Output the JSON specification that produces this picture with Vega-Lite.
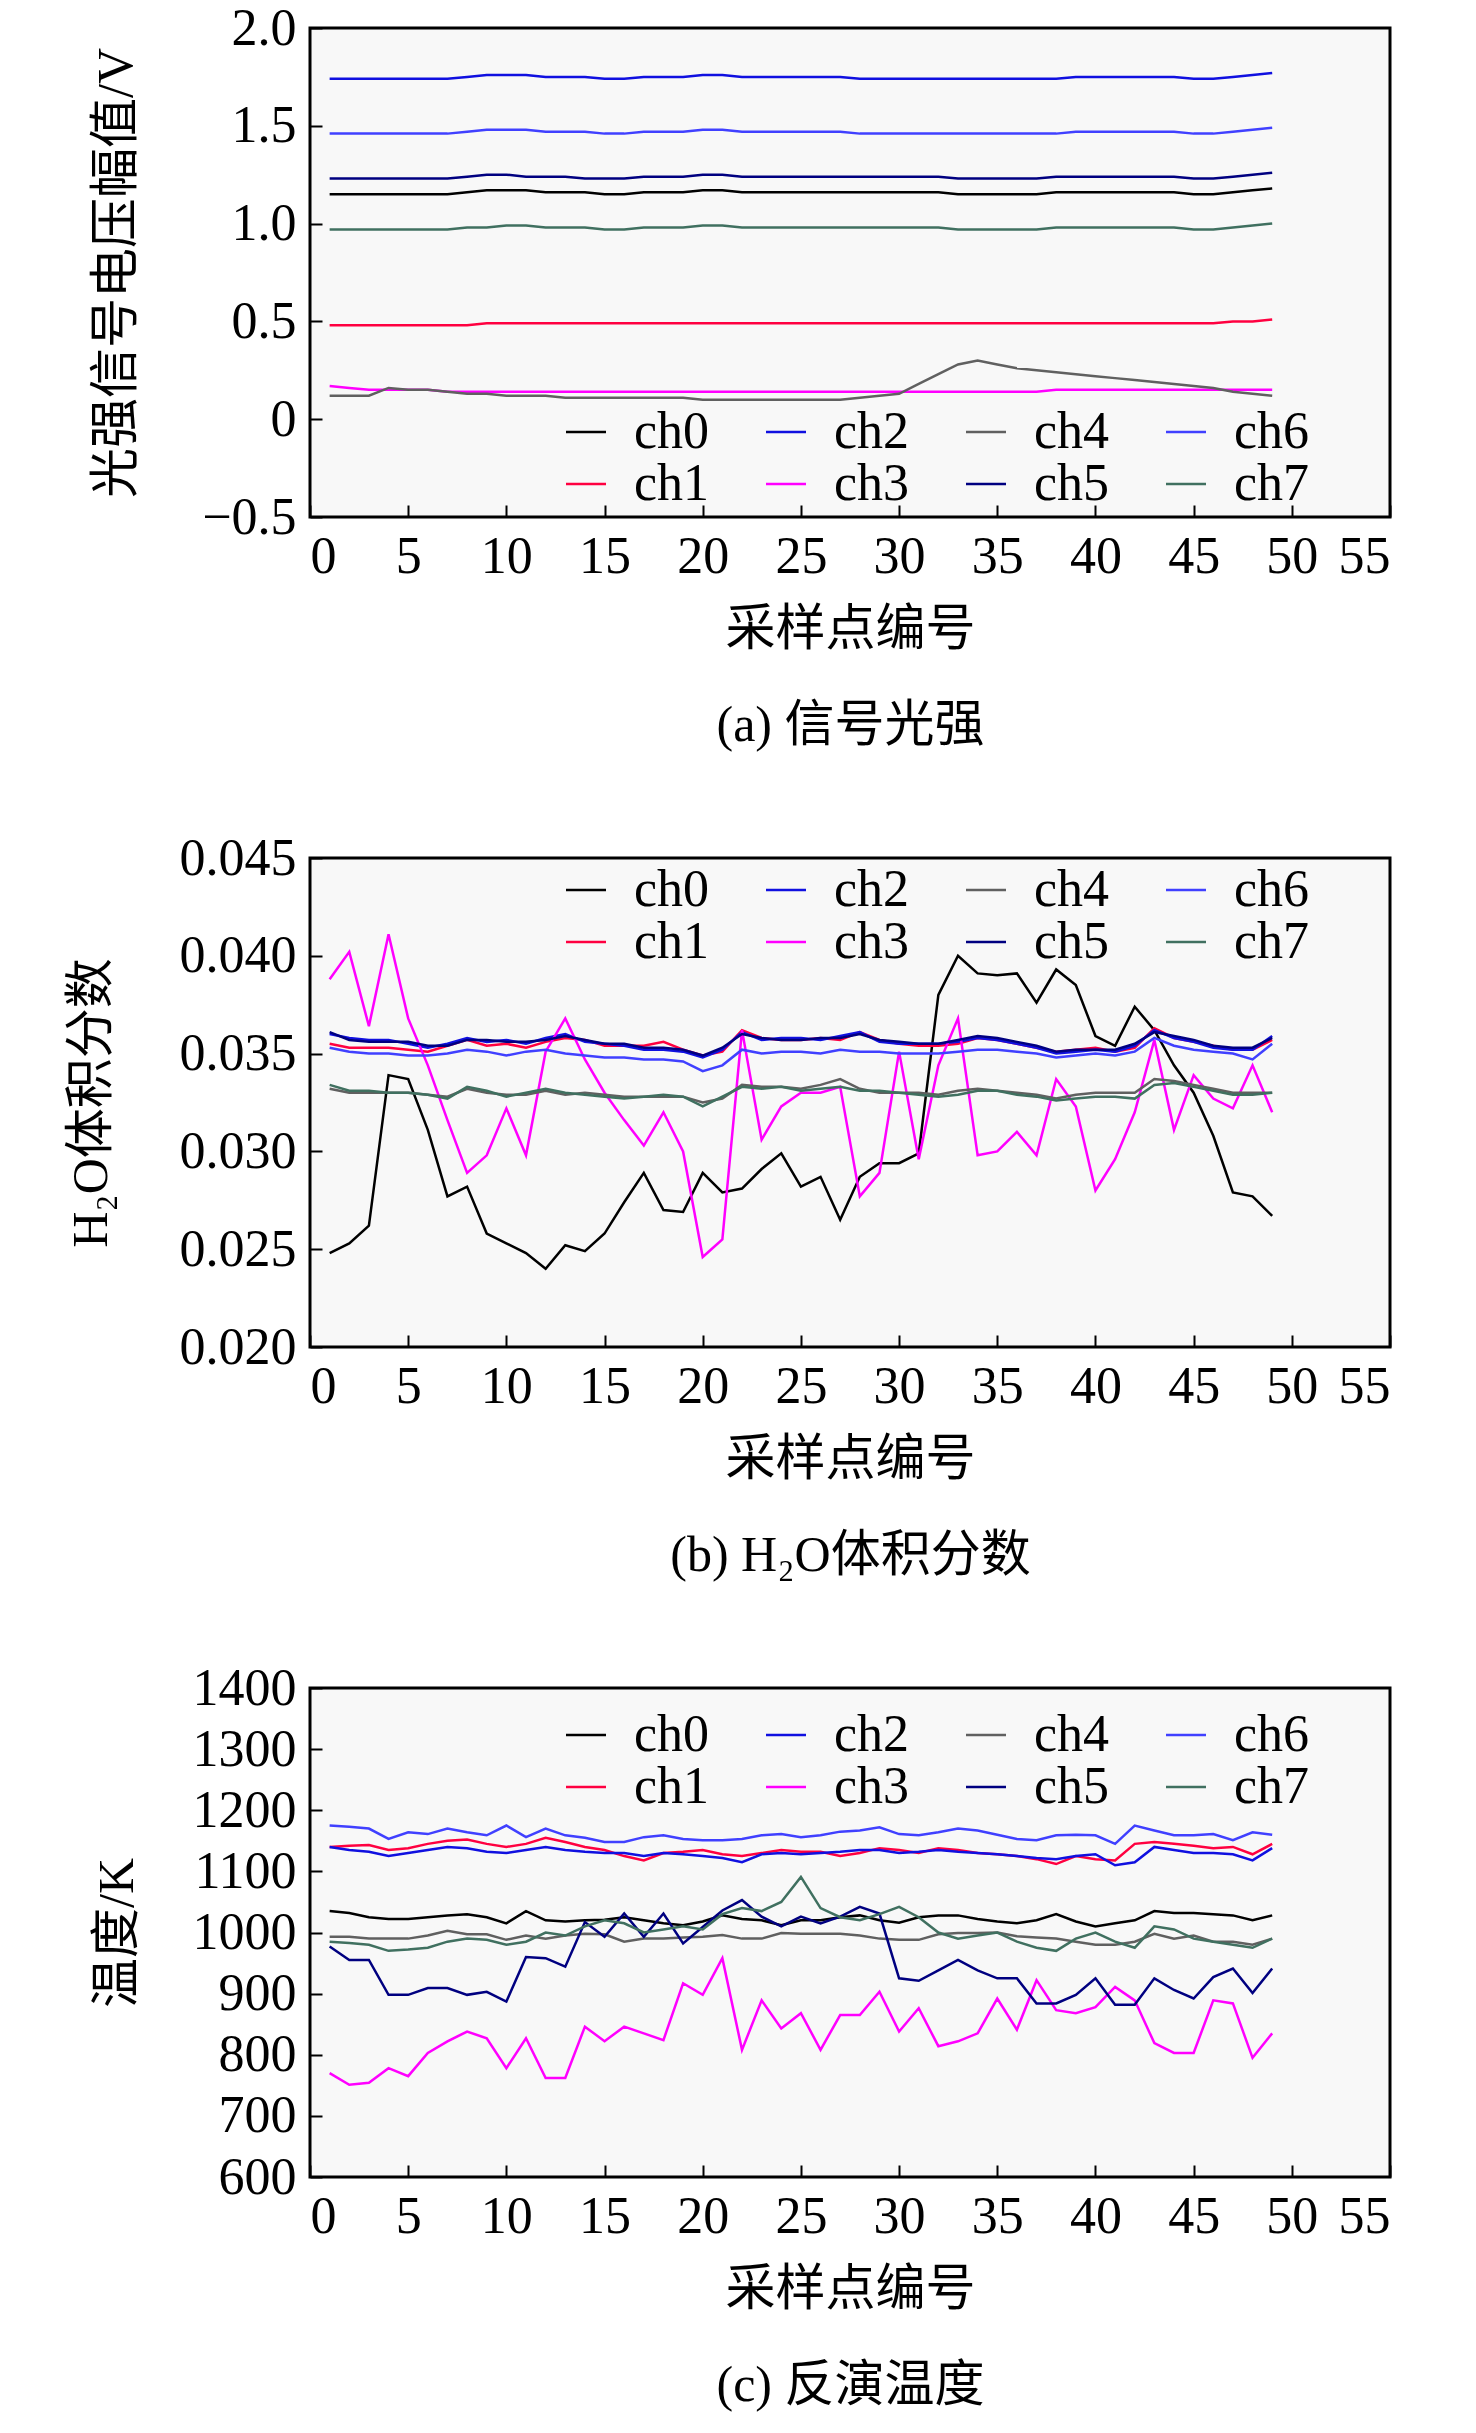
{
  "$schema": "https://vega.github.io/schema/vega-lite/v6.json",
  "background": "white",
  "padding": {"left": 64, "top": 0, "right": 10, "bottom": 10},
  "spacing": 78,
  "config": {
    "font": "Liberation Serif, Noto Sans CJK SC",
    "view": {"stroke": "black", "strokeWidth": 3, "fill": "#f8f8f8"},
    "axis": {
      "labelFont": "Liberation Serif", "labelFontSize": 52, "labelColor": "black",
      "titleFont": "Liberation Serif, Noto Sans CJK SC", "titleFontSize": 50, "titleFontWeight": "normal", "titleColor": "black",
      "domain": false, "grid": false, "tickColor": "black", "tickWidth": 2, "tickSize": -12, "labelPadding": 26
    },
    "legend": {
      "labelFont": "Liberation Serif", "labelFontSize": 52, "labelColor": "black",
      "symbolType": "stroke", "symbolSize": 1600, "symbolStrokeWidth": 3,
      "columns": 4, "columnPadding": 50, "rowPadding": 0, "labelOffset": 22, "labelLimit": 200
    },
    "line": {"strokeWidth": 2.5}
  },
  "datasets": {
    "a": [
      {"c": "ch0", "x": [1,2,3,4,5,6,7,8,9,10,11,12,13,14,15,16,17,18,19,20,21,22,23,24,25,26,27,28,29,30,31,32,33,34,35,36,37,38,39,40,41,42,43,44,45,46,47,48,49], "y": [1.15,1.15,1.15,1.15,1.15,1.15,1.15,1.16,1.17,1.17,1.17,1.16,1.16,1.16,1.15,1.15,1.16,1.16,1.16,1.17,1.17,1.16,1.16,1.16,1.16,1.16,1.16,1.16,1.16,1.16,1.16,1.16,1.15,1.15,1.15,1.15,1.15,1.16,1.16,1.16,1.16,1.16,1.16,1.16,1.15,1.15,1.16,1.17,1.18]},
      {"c": "ch1", "x": [1,2,3,4,5,6,7,8,9,10,11,12,13,14,15,16,17,18,19,20,21,22,23,24,25,26,27,28,29,30,31,32,33,34,35,36,37,38,39,40,41,42,43,44,45,46,47,48,49], "y": [0.48,0.48,0.48,0.48,0.48,0.48,0.48,0.48,0.49,0.49,0.49,0.49,0.49,0.49,0.49,0.49,0.49,0.49,0.49,0.49,0.49,0.49,0.49,0.49,0.49,0.49,0.49,0.49,0.49,0.49,0.49,0.49,0.49,0.49,0.49,0.49,0.49,0.49,0.49,0.49,0.49,0.49,0.49,0.49,0.49,0.49,0.50,0.50,0.51]},
      {"c": "ch2", "x": [1,2,3,4,5,6,7,8,9,10,11,12,13,14,15,16,17,18,19,20,21,22,23,24,25,26,27,28,29,30,31,32,33,34,35,36,37,38,39,40,41,42,43,44,45,46,47,48,49], "y": [1.74,1.74,1.74,1.74,1.74,1.74,1.74,1.75,1.76,1.76,1.76,1.75,1.75,1.75,1.74,1.74,1.75,1.75,1.75,1.76,1.76,1.75,1.75,1.75,1.75,1.75,1.75,1.74,1.74,1.74,1.74,1.74,1.74,1.74,1.74,1.74,1.74,1.74,1.75,1.75,1.75,1.75,1.75,1.75,1.74,1.74,1.75,1.76,1.77]},
      {"c": "ch3", "x": [1,2,3,4,5,6,7,8,9,10,11,12,13,14,15,16,17,18,19,20,21,22,23,24,25,26,27,28,29,30,31,32,33,34,35,36,37,38,39,40,41,42,43,44,45,46,47,48,49], "y": [0.17,0.16,0.15,0.15,0.15,0.15,0.14,0.14,0.14,0.14,0.14,0.14,0.14,0.14,0.14,0.14,0.14,0.14,0.14,0.14,0.14,0.14,0.14,0.14,0.14,0.14,0.14,0.14,0.14,0.14,0.14,0.14,0.14,0.14,0.14,0.14,0.14,0.15,0.15,0.15,0.15,0.15,0.15,0.15,0.15,0.15,0.15,0.15,0.15]},
      {"c": "ch4", "x": [1,2,3,4,5,6,7,8,9,10,11,12,13,14,15,16,17,18,19,20,21,22,23,24,25,26,27,28,29,30,31,32,33,34,35,36,37,38,39,40,41,42,43,44,45,46,47,48,49], "y": [0.12,0.12,0.12,0.16,0.15,0.15,0.14,0.13,0.13,0.12,0.12,0.12,0.11,0.11,0.11,0.11,0.11,0.11,0.11,0.10,0.10,0.10,0.10,0.10,0.10,0.10,0.10,0.11,0.12,0.13,0.18,0.23,0.28,0.30,0.28,0.26,0.25,0.24,0.23,0.22,0.21,0.20,0.19,0.18,0.17,0.16,0.14,0.13,0.12]},
      {"c": "ch5", "x": [1,2,3,4,5,6,7,8,9,10,11,12,13,14,15,16,17,18,19,20,21,22,23,24,25,26,27,28,29,30,31,32,33,34,35,36,37,38,39,40,41,42,43,44,45,46,47,48,49], "y": [1.23,1.23,1.23,1.23,1.23,1.23,1.23,1.24,1.25,1.25,1.24,1.24,1.24,1.23,1.23,1.23,1.24,1.24,1.24,1.25,1.25,1.24,1.24,1.24,1.24,1.24,1.24,1.24,1.24,1.24,1.24,1.24,1.23,1.23,1.23,1.23,1.23,1.24,1.24,1.24,1.24,1.24,1.24,1.24,1.23,1.23,1.24,1.25,1.26]},
      {"c": "ch6", "x": [1,2,3,4,5,6,7,8,9,10,11,12,13,14,15,16,17,18,19,20,21,22,23,24,25,26,27,28,29,30,31,32,33,34,35,36,37,38,39,40,41,42,43,44,45,46,47,48,49], "y": [1.46,1.46,1.46,1.46,1.46,1.46,1.46,1.47,1.48,1.48,1.48,1.47,1.47,1.47,1.46,1.46,1.47,1.47,1.47,1.48,1.48,1.47,1.47,1.47,1.47,1.47,1.47,1.46,1.46,1.46,1.46,1.46,1.46,1.46,1.46,1.46,1.46,1.46,1.47,1.47,1.47,1.47,1.47,1.47,1.46,1.46,1.47,1.48,1.49]},
      {"c": "ch7", "x": [1,2,3,4,5,6,7,8,9,10,11,12,13,14,15,16,17,18,19,20,21,22,23,24,25,26,27,28,29,30,31,32,33,34,35,36,37,38,39,40,41,42,43,44,45,46,47,48,49], "y": [0.97,0.97,0.97,0.97,0.97,0.97,0.97,0.98,0.98,0.99,0.99,0.98,0.98,0.98,0.97,0.97,0.98,0.98,0.98,0.99,0.99,0.98,0.98,0.98,0.98,0.98,0.98,0.98,0.98,0.98,0.98,0.98,0.97,0.97,0.97,0.97,0.97,0.98,0.98,0.98,0.98,0.98,0.98,0.98,0.97,0.97,0.98,0.99,1.00]}
    ],
    "b": [
      {"c": "ch0", "x": [1,2,3,4,5,6,7,8,9,10,11,12,13,14,15,16,17,18,19,20,21,22,23,24,25,26,27,28,29,30,31,32,33,34,35,36,37,38,39,40,41,42,43,44,45,46,47,48,49], "y": [0.0248,0.0253,0.0262,0.0339,0.0337,0.0311,0.0277,0.0282,0.0258,0.0253,0.0248,0.0240,0.0252,0.0249,0.0258,0.0274,0.0289,0.0270,0.0269,0.0289,0.0279,0.0281,0.0291,0.0299,0.0282,0.0287,0.0265,0.0287,0.0294,0.0294,0.0299,0.0380,0.0400,0.0391,0.0390,0.0391,0.0376,0.0393,0.0385,0.0359,0.0354,0.0374,0.0362,0.0344,0.0330,0.0308,0.0279,0.0277,0.0267]},
      {"c": "ch1", "x": [1,2,3,4,5,6,7,8,9,10,11,12,13,14,15,16,17,18,19,20,21,22,23,24,25,26,27,28,29,30,31,32,33,34,35,36,37,38,39,40,41,42,43,44,45,46,47,48,49], "y": [0.0355,0.0353,0.0353,0.0353,0.0352,0.0351,0.0354,0.0357,0.0354,0.0355,0.0353,0.0356,0.0358,0.0357,0.0354,0.0354,0.0354,0.0356,0.0352,0.0349,0.0351,0.0362,0.0358,0.0357,0.0357,0.0358,0.0357,0.0361,0.0357,0.0355,0.0354,0.0354,0.0355,0.0358,0.0357,0.0355,0.0353,0.0351,0.0352,0.0353,0.0351,0.0353,0.0363,0.0358,0.0356,0.0354,0.0352,0.0352,0.0357]},
      {"c": "ch2", "x": [1,2,3,4,5,6,7,8,9,10,11,12,13,14,15,16,17,18,19,20,21,22,23,24,25,26,27,28,29,30,31,32,33,34,35,36,37,38,39,40,41,42,43,44,45,46,47,48,49], "y": [0.0360,0.0358,0.0357,0.0357,0.0355,0.0353,0.0355,0.0358,0.0356,0.0357,0.0355,0.0358,0.0360,0.0356,0.0355,0.0354,0.0352,0.0352,0.0351,0.0348,0.0352,0.0361,0.0357,0.0358,0.0358,0.0357,0.0359,0.0361,0.0356,0.0355,0.0355,0.0355,0.0356,0.0358,0.0357,0.0355,0.0353,0.0350,0.0351,0.0352,0.0351,0.0354,0.0362,0.0358,0.0356,0.0353,0.0352,0.0352,0.0359]},
      {"c": "ch3", "x": [1,2,3,4,5,6,7,8,9,10,11,12,13,14,15,16,17,18,19,20,21,22,23,24,25,26,27,28,29,30,31,32,33,34,35,36,37,38,39,40,41,42,43,44,45,46,47,48,49], "y": [0.0388,0.0402,0.0364,0.0411,0.0368,0.0344,0.0316,0.0289,0.0298,0.0322,0.0298,0.0351,0.0368,0.0347,0.0330,0.0316,0.0303,0.0320,0.0300,0.0246,0.0255,0.0362,0.0306,0.0323,0.0330,0.0330,0.0333,0.0277,0.0289,0.0351,0.0296,0.0344,0.0368,0.0298,0.0300,0.0310,0.0298,0.0337,0.0323,0.0280,0.0296,0.0320,0.0357,0.0311,0.0339,0.0327,0.0322,0.0344,0.0320]},
      {"c": "ch4", "x": [1,2,3,4,5,6,7,8,9,10,11,12,13,14,15,16,17,18,19,20,21,22,23,24,25,26,27,28,29,30,31,32,33,34,35,36,37,38,39,40,41,42,43,44,45,46,47,48,49], "y": [0.0332,0.0330,0.0330,0.0330,0.0330,0.0329,0.0328,0.0332,0.0330,0.0329,0.0329,0.0331,0.0329,0.0330,0.0329,0.0328,0.0328,0.0328,0.0328,0.0325,0.0327,0.0334,0.0333,0.0333,0.0332,0.0334,0.0337,0.0332,0.0330,0.0330,0.0330,0.0329,0.0331,0.0332,0.0331,0.0330,0.0329,0.0327,0.0329,0.0330,0.0330,0.0330,0.0337,0.0336,0.0334,0.0332,0.0330,0.0330,0.0330]},
      {"c": "ch5", "x": [1,2,3,4,5,6,7,8,9,10,11,12,13,14,15,16,17,18,19,20,21,22,23,24,25,26,27,28,29,30,31,32,33,34,35,36,37,38,39,40,41,42,43,44,45,46,47,48,49], "y": [0.0361,0.0357,0.0356,0.0356,0.0356,0.0354,0.0354,0.0357,0.0357,0.0356,0.0356,0.0357,0.0359,0.0357,0.0355,0.0355,0.0353,0.0353,0.0352,0.0349,0.0353,0.0360,0.0358,0.0357,0.0357,0.0358,0.0358,0.0360,0.0357,0.0356,0.0355,0.0355,0.0357,0.0359,0.0358,0.0356,0.0354,0.0351,0.0352,0.0352,0.0352,0.0355,0.0361,0.0359,0.0357,0.0354,0.0353,0.0353,0.0358]},
      {"c": "ch6", "x": [1,2,3,4,5,6,7,8,9,10,11,12,13,14,15,16,17,18,19,20,21,22,23,24,25,26,27,28,29,30,31,32,33,34,35,36,37,38,39,40,41,42,43,44,45,46,47,48,49], "y": [0.0353,0.0351,0.0350,0.0350,0.0349,0.0349,0.0350,0.0352,0.0351,0.0349,0.0351,0.0352,0.0350,0.0349,0.0348,0.0348,0.0347,0.0347,0.0346,0.0341,0.0344,0.0352,0.0350,0.0351,0.0351,0.0350,0.0352,0.0351,0.0351,0.0350,0.0350,0.0350,0.0351,0.0352,0.0352,0.0351,0.0350,0.0348,0.0349,0.0350,0.0349,0.0351,0.0358,0.0354,0.0352,0.0351,0.0350,0.0347,0.0355]},
      {"c": "ch7", "x": [1,2,3,4,5,6,7,8,9,10,11,12,13,14,15,16,17,18,19,20,21,22,23,24,25,26,27,28,29,30,31,32,33,34,35,36,37,38,39,40,41,42,43,44,45,46,47,48,49], "y": [0.0334,0.0331,0.0331,0.0330,0.0330,0.0329,0.0327,0.0333,0.0331,0.0328,0.0330,0.0332,0.0330,0.0329,0.0328,0.0327,0.0328,0.0329,0.0328,0.0323,0.0328,0.0333,0.0332,0.0333,0.0331,0.0332,0.0333,0.0331,0.0331,0.0330,0.0329,0.0328,0.0329,0.0331,0.0331,0.0329,0.0328,0.0326,0.0327,0.0328,0.0328,0.0327,0.0334,0.0335,0.0333,0.0331,0.0329,0.0329,0.0330]}
    ],
    "c": [
      {"c": "ch0", "x": [1,2,3,4,5,6,7,8,9,10,11,12,13,14,15,16,17,18,19,20,21,22,23,24,25,26,27,28,29,30,31,32,33,34,35,36,37,38,39,40,41,42,43,44,45,46,47,48,49], "y": [1035,1032,1025,1022,1022,1025,1028,1030,1025,1015,1035,1020,1018,1020,1021,1025,1020,1015,1012,1018,1028,1022,1020,1012,1020,1020,1025,1028,1020,1016,1025,1028,1028,1022,1018,1015,1020,1030,1018,1010,1015,1020,1035,1032,1032,1030,1028,1020,1028]},
      {"c": "ch1", "x": [1,2,3,4,5,6,7,8,9,10,11,12,13,14,15,16,17,18,19,20,21,22,23,24,25,26,27,28,29,30,31,32,33,34,35,36,37,38,39,40,41,42,43,44,45,46,47,48,49], "y": [1140,1142,1143,1135,1138,1145,1150,1152,1145,1140,1145,1155,1148,1140,1135,1125,1118,1130,1132,1135,1128,1125,1130,1135,1132,1132,1125,1130,1138,1135,1130,1138,1135,1130,1128,1125,1120,1112,1125,1120,1118,1145,1148,1145,1142,1138,1140,1128,1145]},
      {"c": "ch2", "x": [1,2,3,4,5,6,7,8,9,10,11,12,13,14,15,16,17,18,19,20,21,22,23,24,25,26,27,28,29,30,31,32,33,34,35,36,37,38,39,40,41,42,43,44,45,46,47,48,49], "y": [1140,1135,1132,1125,1130,1135,1140,1138,1132,1130,1135,1140,1135,1132,1130,1130,1125,1130,1128,1125,1122,1115,1128,1130,1128,1130,1132,1135,1135,1130,1132,1135,1132,1130,1128,1125,1122,1120,1125,1128,1110,1115,1140,1135,1130,1130,1128,1118,1138]},
      {"c": "ch3", "x": [1,2,3,4,5,6,7,8,9,10,11,12,13,14,15,16,17,18,19,20,21,22,23,24,25,26,27,28,29,30,31,32,33,34,35,36,37,38,39,40,41,42,43,44,45,46,47,48,49], "y": [770,751,754,778,765,803,822,838,827,778,827,762,762,846,822,846,835,824,917,898,958,808,889,843,868,808,865,865,903,838,876,814,822,835,892,841,922,873,868,878,911,889,819,803,803,889,884,795,835]},
      {"c": "ch4", "x": [1,2,3,4,5,6,7,8,9,10,11,12,13,14,15,16,17,18,19,20,21,22,23,24,25,26,27,28,29,30,31,32,33,34,35,36,37,38,39,40,41,42,43,44,45,46,47,48,49], "y": [993,993,990,990,990,995,1003,997,997,988,995,990,995,998,997,985,990,990,992,993,996,990,990,999,998,998,998,995,990,988,988,997,999,999,1000,994,992,990,985,980,980,985,998,990,995,985,985,980,990]},
      {"c": "ch5", "x": [1,2,3,4,5,6,7,8,9,10,11,12,13,14,15,16,17,18,19,20,21,22,23,24,25,26,27,28,29,30,31,32,33,34,35,36,37,38,39,40,41,42,43,44,45,46,47,48,49], "y": [977,955,955,898,898,909,909,898,903,887,960,958,944,1017,993,1031,993,1031,982,1009,1036,1053,1026,1010,1026,1015,1026,1042,1031,925,921,938,955,938,925,925,884,884,898,925,882,882,925,906,892,927,941,901,941]},
      {"c": "ch6", "x": [1,2,3,4,5,6,7,8,9,10,11,12,13,14,15,16,17,18,19,20,21,22,23,24,25,26,27,28,29,30,31,32,33,34,35,36,37,38,39,40,41,42,43,44,45,46,47,48,49], "y": [1175,1173,1170,1153,1164,1161,1170,1164,1159,1175,1156,1170,1159,1155,1148,1148,1156,1159,1153,1151,1151,1153,1159,1161,1156,1159,1165,1167,1172,1161,1159,1164,1170,1167,1160,1153,1151,1159,1160,1159,1145,1175,1167,1159,1159,1161,1151,1164,1160]},
      {"c": "ch7", "x": [1,2,3,4,5,6,7,8,9,10,11,12,13,14,15,16,17,18,19,20,21,22,23,24,25,26,27,28,29,30,31,32,33,34,35,36,37,38,39,40,41,42,43,44,45,46,47,48,49], "y": [985,983,980,970,972,975,985,990,988,980,985,1000,995,1010,1020,1015,1000,1005,1010,1005,1030,1040,1035,1050,1091,1040,1025,1020,1030,1042,1025,1000,990,995,1000,985,975,970,990,1000,985,975,1010,1005,990,985,980,975,990]}
    ]
  },
  "resolve": {"legend": {"color": "independent"}},
  "vconcat": [
    {
      "data": {"name": "a"},
      "transform": [{"flatten": ["x", "y"]}],
      "width": 1080, "height": 489,
      "mark": "line",
      "encoding": {
        "x": {"field": "x", "type": "quantitative", "scale": {"domain": [0, 55], "nice": false},
              "axis": {"values": [0,5,10,15,20,25,30,35,40,45,50,55], "title": ["采样点编号", "(a) 信号光强"], "titleLineHeight": 96, "titlePadding": 22}},
        "y": {"field": "y", "type": "quantitative", "scale": {"domain": [-0.5, 2.0], "nice": false, "zero": false},
              "axis": {"values": [-0.5,0,0.5,1,1.5,2], "labelExpr": "datum.value == 0 ? '0' : replace(format(datum.value, '.1f'), '-', '−')", "title": "光强信号电压幅值/V", "titlePadding": 60}},
        "color": {"field": "c", "type": "nominal",
                  "scale": {"domain": ["ch0","ch1","ch2","ch3","ch4","ch5","ch6","ch7"], "range": ["#000000","#ff0040","#1010e0","#ff00ff","#606060","#000080","#4040ff","#407060"]},
                  "legend": {"title": null, "orient": "none", "legendX": 250, "legendY": 378}}
      }
    },
    {
      "data": {"name": "b"},
      "transform": [{"flatten": ["x", "y"]}],
      "width": 1080, "height": 489,
      "mark": "line",
      "encoding": {
        "x": {"field": "x", "type": "quantitative", "scale": {"domain": [0, 55], "nice": false},
              "axis": {"values": [0,5,10,15,20,25,30,35,40,45,50,55], "title": ["采样点编号", "(b) H₂O体积分数"], "titleLineHeight": 96, "titlePadding": 22}},
        "y": {"field": "y", "type": "quantitative", "scale": {"domain": [0.02, 0.045], "nice": false, "zero": false},
              "axis": {"values": [0.02,0.025,0.03,0.035,0.04,0.045], "format": ".3f", "title": "H₂O体积分数", "titlePadding": 63}},
        "color": {"field": "c", "type": "nominal",
                  "scale": {"domain": ["ch0","ch1","ch2","ch3","ch4","ch5","ch6","ch7"], "range": ["#000000","#ff0040","#1010e0","#ff00ff","#108060","#000080","#4040ff","#a00020"]},
                  "legend": {"title": null, "orient": "none", "legendX": 250, "legendY": 6}}
      }
    },
    {
      "data": {"name": "c"},
      "transform": [{"flatten": ["x", "y"]}],
      "width": 1080, "height": 489,
      "mark": "line",
      "encoding": {
        "x": {"field": "x", "type": "quantitative", "scale": {"domain": [0, 55], "nice": false},
              "axis": {"values": [0,5,10,15,20,25,30,35,40,45,50,55], "title": ["采样点编号", "(c) 反演温度"], "titleLineHeight": 96, "titlePadding": 22}},
        "y": {"field": "y", "type": "quantitative", "scale": {"domain": [600, 1400], "nice": false, "zero": false},
              "axis": {"values": [600,700,800,900,1000,1100,1200,1300,1400], "format": "d", "title": "温度/K", "titlePadding": 50}},
        "color": {"field": "c", "type": "nominal",
                  "scale": {"domain": ["ch0","ch1","ch2","ch3","ch4","ch5","ch6","ch7"], "range": ["#000000","#ff0040","#1010e0","#ff00ff","#108060","#000080","#4040ff","#a00020"]},
                  "legend": {"title": null, "orient": "none", "legendX": 250, "legendY": 21}}
      }
    }
  ]
}
